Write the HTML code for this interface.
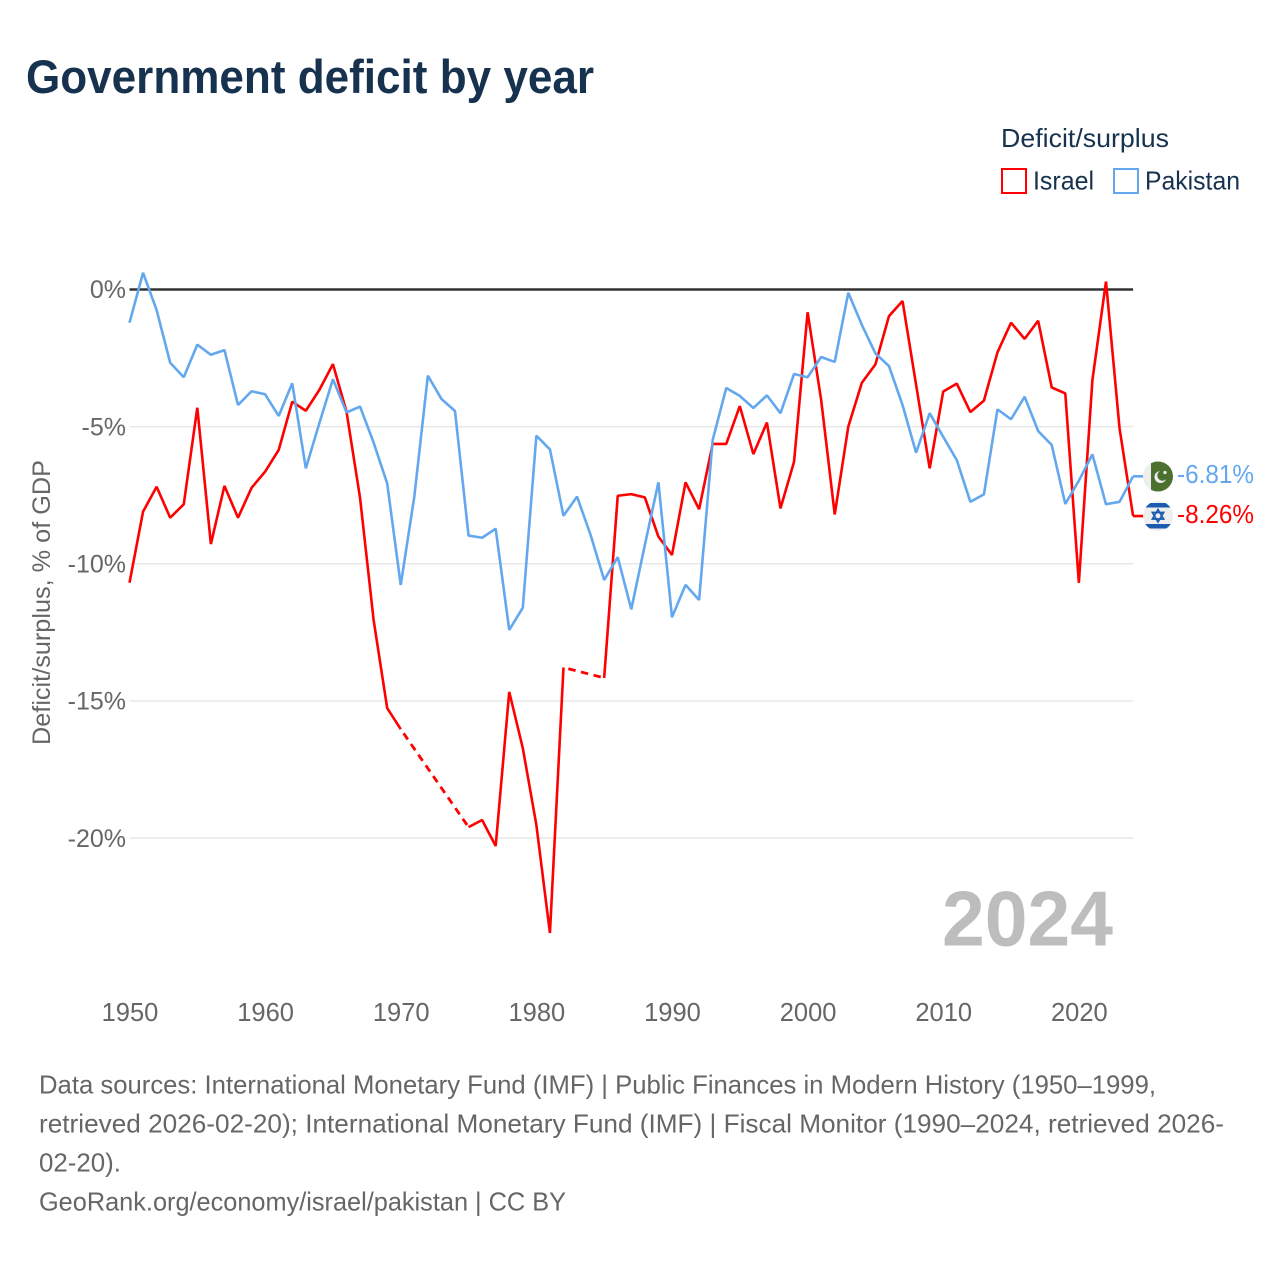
<!DOCTYPE html>
<html lang="en">
<head>
<meta charset="utf-8">
<title>Government deficit by year</title>
<style>
html,body{margin:0;padding:0;background:#fff;}
#chart-wrap{width:1280px;height:1280px;overflow:hidden;}
svg{display:block;font-family:"Liberation Sans",Arial,sans-serif;}
</style>
</head>
<body>
<div id="chart-wrap">
<svg id="chart" width="1280" height="1280" viewBox="0 0 1280 1280" xmlns="http://www.w3.org/2000/svg">
  <defs>
    <clipPath id="flag-clip-pk"><circle cx="1158" cy="476.5" r="15"></circle></clipPath>
    <clipPath id="flag-clip-il"><circle cx="1158" cy="516" r="15"></circle></clipPath>
  </defs>
  <text x="26" y="93" font-size="47" font-weight="700" fill="#16324f" textLength="568" lengthAdjust="spacingAndGlyphs">Government deficit by year</text>

  <g>
    <text x="1001" y="147" font-size="26" fill="#16324f" textLength="168" lengthAdjust="spacingAndGlyphs">Deficit/surplus</text>
    <rect x="1002" y="169" width="24" height="24" fill="#fff" stroke="#ff0000" stroke-width="2"></rect>
    <text x="1033" y="189.5" font-size="26" fill="#16324f" textLength="61" lengthAdjust="spacingAndGlyphs">Israel</text>
    <rect x="1114" y="169" width="24" height="24" fill="#fff" stroke="#63a8ee" stroke-width="2"></rect>
    <text x="1145" y="189.5" font-size="26" fill="#16324f" textLength="95" lengthAdjust="spacingAndGlyphs">Pakistan</text>
  </g>

  <g id="grid"></g>
  <g id="y-ticks"></g>
  <g id="x-ticks"></g>
  <text transform="translate(50,602.5) rotate(-90)" text-anchor="middle" font-size="25" fill="#666666" textLength="285" lengthAdjust="spacingAndGlyphs">Deficit/surplus, % of GDP</text>

  <text id="year-watermark" x="942" y="945.5" font-size="78" font-weight="700" fill="#bdbdbd" textLength="171" lengthAdjust="spacingAndGlyphs">2024</text>

  <g id="series"></g>

  <g id="flag-pakistan">
    <g clip-path="url(#flag-clip-pk)">
      <rect x="1143" y="461" width="30" height="31" fill="#eeeeee"></rect>
      <rect x="1151" y="461" width="22" height="31" fill="#4c7030"></rect>
      <circle cx="1160.5" cy="477" r="6" fill="#eeeeee"></circle>
      <circle cx="1162.5" cy="475.5" r="5.2" fill="#4c7030"></circle>
      <circle cx="1165" cy="472.5" r="1.6" fill="#eeeeee"></circle>
    </g>
  </g>
  <g id="flag-israel">
    <g clip-path="url(#flag-clip-il)">
      <rect x="1143" y="501" width="30" height="30" fill="#eeeeee"></rect>
      <rect x="1143" y="503" width="30" height="4.5" fill="#1a5bb0"></rect>
      <rect x="1143" y="524" width="30" height="4.5" fill="#1a5bb0"></rect>
      <polygon points="1158,509.5 1163.6,519 1152.4,519" fill="none" stroke="#1a5bb0" stroke-width="1.7"></polygon>
      <polygon points="1158,522 1163.6,512.5 1152.4,512.5" fill="none" stroke="#1a5bb0" stroke-width="1.7"></polygon>
    </g>
  </g>
  <g id="end-labels"></g>

  <g font-size="26" fill="#666666">
    <text x="39" y="1093.5" textLength="1117" lengthAdjust="spacingAndGlyphs">Data sources: International Monetary Fund (IMF) | Public Finances in Modern History (1950–1999,</text>
    <text x="39" y="1132.5" textLength="1185" lengthAdjust="spacingAndGlyphs">retrieved 2026-02-20); International Monetary Fund (IMF) | Fiscal Monitor (1990–2024, retrieved 2026-</text>
    <text x="39" y="1171.5" textLength="82" lengthAdjust="spacingAndGlyphs">02-20).</text>
    <text x="39" y="1210.5" textLength="527" lengthAdjust="spacingAndGlyphs">GeoRank.org/economy/israel/pakistan | CC BY</text>
  </g>
</svg>
</div>
<script>
const startYear = 1950;
const endYear = 2024;
const xTickYears = [1950, 1960, 1970, 1980, 1990, 2000, 2010, 2020];
const yTickValues = [0, -5, -10, -15, -20];
const israelValues = [
  -10.69, -8.10, -7.19, -8.32, -7.83, -4.31, -9.28, -7.16, -8.32, -7.23,
  -6.64, -5.85, -4.09, -4.42, -3.66, -2.72, -4.45, -7.60, -12.05, -15.26,
  -16.03, null, null, null, null, -19.60, -19.34, -20.29, -14.67, -16.72,
  -19.52, -23.46, -13.78, null, null, -14.16, -7.52, -7.46, -7.58, -9.01,
  -9.68, -7.03, -8.01, -5.63, -5.63, -4.25, -6.00, -4.85, -7.98, -6.28,
  -0.83, -4.03, -8.20, -5.00, -3.40, -2.73, -0.97, -0.42, -3.48, -6.52,
  -3.72, -3.43, -4.47, -4.05, -2.29, -1.21, -1.80, -1.14, -3.57, -3.79,
  -10.69, -3.30, 0.29, -5.06, -8.26
];
const pakistanValues = [
  -1.21, 0.61, -0.75, -2.67, -3.20, -2.01, -2.38, -2.21, -4.21, -3.71,
  -3.82, -4.61, -3.42, -6.52, -4.87, -3.27, -4.48, -4.27, -5.58, -7.07,
  -10.77, -7.55, -3.14, -3.99, -4.43, -8.97, -9.05, -8.72, -12.41, -11.60,
  -5.33, -5.83, -8.25, -7.55, -8.95, -10.59, -9.76, -11.66, -9.31, -7.03,
  -11.95, -10.77, -11.32, -5.49, -3.59, -3.88, -4.32, -3.86, -4.51, -3.08,
  -3.20, -2.46, -2.64, -0.12, -1.29, -2.33, -2.79, -4.21, -5.95, -4.51,
  -5.37, -6.22, -7.74, -7.47, -4.37, -4.73, -3.91, -5.16, -5.67, -7.82,
  -6.97, -6.01, -7.83, -7.74, -6.81
];

const NS = 'http://www.w3.org/2000/svg';
const RED = '#ff0000';
const BLUE = '#63a8ee';

function xScale(year) {
  return 129.5 + (year - startYear) * (1003.6 / (endYear - startYear));
}
function yScale(value) {
  return 289.5 - value * 27.43;
}
function make(tag, attrs, parent) {
  const el = document.createElementNS(NS, tag);
  for (const k in attrs) el.setAttribute(k, attrs[k]);
  parent.appendChild(el);
  return el;
}

const gridG = document.getElementById('grid');
const yG = document.getElementById('y-ticks');
yTickValues.forEach(function (v) {
  const isZero = v === 0;
  const line = make('line', {
    x1: 129.5, x2: 1133.1, y1: yScale(v), y2: yScale(v),
    stroke: isZero ? '#333333' : '#e8e8e8',
    'stroke-width': isZero ? 2.5 : 1.5
  }, gridG);
  
  
  const t = make('text', {
    x: 126, y: yScale(v) + 8.7, 'text-anchor': 'end', 'font-size': 25, fill: '#666666'
  }, yG);
  
  
  t.textContent = v + '%';
});

const xG = document.getElementById('x-ticks');
xTickYears.forEach(function (yr) {
  const t = make('text', {
    x: xScale(yr) + 0.5, y: 1021, 'text-anchor': 'middle', 'font-size': 25.5, fill: '#666666'
  }, xG);
  
  
  t.textContent = yr;
});

function drawSeries(values, color, name) {
  const g = document.getElementById('series');
  let solid = '';
  let dashed = '';
  let prevIdx = null;
  values.forEach(function (v, i) {
    if (v === null) return;
    const px = xScale(startYear + i).toFixed(2) + ' ' + yScale(v).toFixed(2);
    if (prevIdx === null) {
      solid += 'M' + px;
    } else if (prevIdx === i - 1) {
      solid += 'L' + px;
    } else {
      dashed += 'M' + xScale(startYear + prevIdx).toFixed(2) + ' ' + yScale(values[prevIdx]).toFixed(2) + 'L' + px;
      solid += 'M' + px;
    }
    prevIdx = i;
  });
  const last = values[values.length - 1];
  solid += 'M' + xScale(endYear).toFixed(2) + ' ' + yScale(last).toFixed(2) + 'L1146 ' + yScale(last).toFixed(2);
  const p = make('path', {
    d: solid, fill: 'none', stroke: color, 'stroke-width': 2.6, 'stroke-linejoin': 'bevel'
  }, g);
  
  
  if (dashed) {
    const d = make('path', {
      d: dashed, fill: 'none', stroke: color, 'stroke-width': 2.8, 'stroke-dasharray': '7.5 5.5', 'stroke-dashoffset': '-5'
    }, g);
    
    
  }
}
drawSeries(israelValues, RED, 'israel');
drawSeries(pakistanValues, BLUE, 'pakistan');

const labelG = document.getElementById('end-labels');
const pkLabel = make('text', {
  x: 1254, y: 483, 'text-anchor': 'end', 'font-size': 26, fill: BLUE,
  textLength: 77, lengthAdjust: 'spacingAndGlyphs'
}, labelG);


pkLabel.textContent = pakistanValues[pakistanValues.length - 1].toFixed(2) + '%';

const ilLabel = make('text', {
  x: 1254, y: 523, 'text-anchor': 'end', 'font-size': 26, fill: RED,
  textLength: 77, lengthAdjust: 'spacingAndGlyphs'
}, labelG);


ilLabel.textContent = israelValues[israelValues.length - 1].toFixed(2) + '%';
</script>
</body>
</html>
